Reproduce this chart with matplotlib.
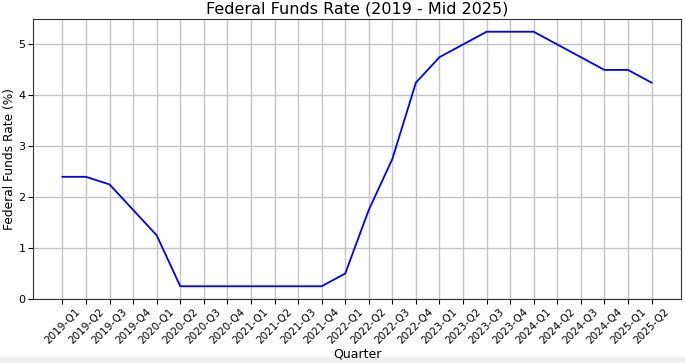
import matplotlib
matplotlib.use("Agg")
import matplotlib.pyplot as plt

quarters = ["2019-Q1", "2019-Q2", "2019-Q3", "2019-Q4",
            "2020-Q1", "2020-Q2", "2020-Q3", "2020-Q4",
            "2021-Q1", "2021-Q2", "2021-Q3", "2021-Q4",
            "2022-Q1", "2022-Q2", "2022-Q3", "2022-Q4",
            "2023-Q1", "2023-Q2", "2023-Q3", "2023-Q4",
            "2024-Q1", "2024-Q2", "2024-Q3", "2024-Q4",
            "2025-Q1", "2025-Q2"]
rates = [2.4, 2.4, 2.25, 1.75,
         1.25, 0.25, 0.25, 0.25,
         0.25, 0.25, 0.25, 0.25,
         0.5, 1.75, 2.75, 4.25,
         4.75, 5.0, 5.25, 5.25,
         5.25, 5.0, 4.75, 4.5,
         4.5, 4.25]

fig = plt.figure(figsize=(6.85, 3.63), dpi=100)
ax = fig.add_axes([33/685, 1 - 299/363, (681-33)/685, (299-19)/363])

ax.plot(quarters, rates, color="blue", linewidth=1.3)
ax.set_ylim(0, 5.5)
ax.set_title("Federal Funds Rate (2019 - Mid 2025)", fontsize=11.5, pad=4)
ax.set_xlabel("Quarter", fontsize=9, labelpad=1)
ax.set_ylabel("Federal Funds Rate (%)", fontsize=8.8)
# y label anchored by its bottom (right side once rotated), about 16 px from the left
ax.yaxis.set_label_coords(-17/648, 0.5)
ax.tick_params(axis="x", labelsize=7.5, rotation=45, pad=2)
ax.tick_params(axis="y", labelsize=8, pad=2)
ax.grid(True, color="#c4c4c4", linewidth=1.0)
for s in ax.spines.values():
    s.set_color("#333333")

# strip at the bottom as in the screenshot
fig.patches.append(plt.Rectangle((0, 0), 1, 6/363, transform=fig.transFigure,
                                 color="#f0f0f0", zorder=-1))

fig.savefig("out.png", dpi=100)
